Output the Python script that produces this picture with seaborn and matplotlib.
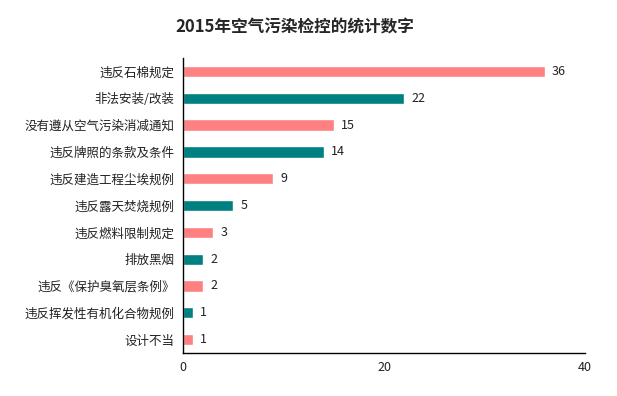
import pandas as pd
import numpy as np
import matplotlib
matplotlib.use('Agg')
import matplotlib.pyplot as plt
import seaborn as sns

categorias = ['违反石棉规定', '非法安装/改装', '没有遵从空气污染消减通知', '违反牌照的条款及条件',
              '违反建造工程尘埃规例', '违反露天焚烧规例', '违反燃料限制规定', '排放黑烟',
              '违反《保护臭氧层条例》', '违反挥发性有机化合物规例', '设计不当']
valores = [36, 22, 15, 14, 9, 5, 3, 2, 2, 1, 1]
ticks_x = [0, 20, 40]
titulo = '2015年空气污染检控的统计数字'

sns.set_style('white')
plt.rcParams['font.family'] = ['Noto Sans CJK SC', 'DejaVu Sans']

colores = ['#FF8080' if i % 2 == 0 else '#008080' for i in range(len(categorias))]
df = pd.DataFrame({'categoria': categorias, 'valor': valores})

fig = plt.figure(figsize=(6.17, 3.96), dpi=100)
ax = fig.add_axes([0.2966, 0.1086, 0.6515, 0.7449])
sns.barplot(data=df, x='valor', y='categoria', hue='categoria', palette=colores,
            legend=False, width=0.42, saturation=1, ax=ax)

for i, v in enumerate(valores):
    ax.text(v + 0.7, i, str(v), va='center', ha='left', fontsize=9, color='#222222')

ax.set_xlim(0, 40)
ax.set_ylim(len(categorias) - 0.5, -0.5)
ax.set_xticks(ticks_x)
ax.set_xlabel('')
ax.set_ylabel('')
ax.tick_params(axis='x', direction='in', length=4, labelsize=9, pad=6, colors='#222222')
ax.tick_params(axis='y', length=0, labelsize=9, pad=6, colors='#222222')
for s in ['top', 'right']:
    ax.spines[s].set_visible(False)
for s in ['left', 'bottom']:
    ax.spines[s].set_color('black')
    ax.spines[s].set_linewidth(1)

fig.text(0.478, 0.93, titulo, ha='center', va='center', fontsize=12, fontweight='bold')

fig.savefig('out.png', dpi=100)
